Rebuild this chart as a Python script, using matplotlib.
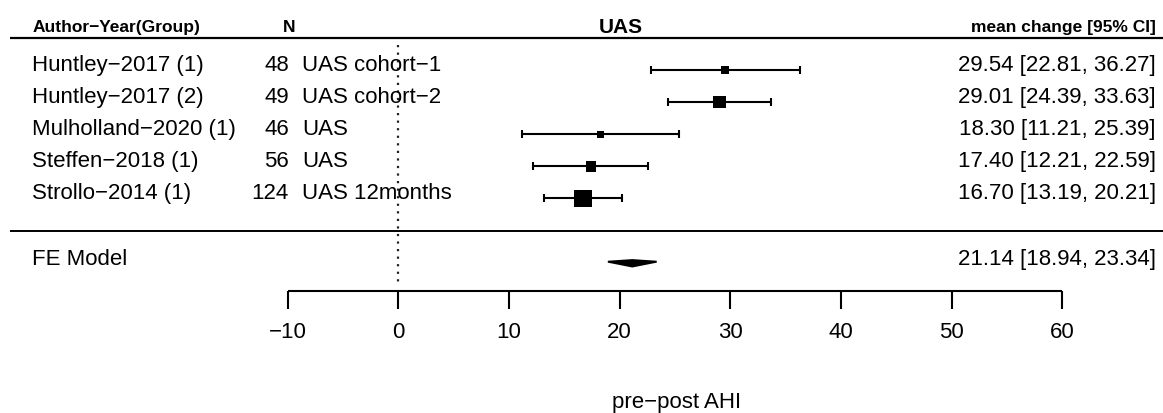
import numpy as np
import matplotlib
matplotlib.use("Agg")
import matplotlib.pyplot as plt
from matplotlib.patches import Polygon

plt.rcParams['font.family'] = ['Liberation Sans', 'DejaVu Sans']

# ---- data ----
studies = ["Huntley\u22122017 (1)", "Huntley\u22122017 (2)", "Mulholland\u22122020 (1)",
           "Steffen\u22122018 (1)", "Strollo\u22122014 (1)"]
n_vals = [48, 49, 46, 56, 124]
groups = ["UAS cohort\u22121", "UAS cohort\u22122", "UAS", "UAS", "UAS 12months"]
est = np.array([29.54, 29.01, 18.30, 17.40, 16.70])
ci_lo = np.array([22.81, 24.39, 11.21, 12.21, 13.19])
ci_hi = np.array([36.27, 33.63, 25.39, 22.59, 20.21])
fe_label = "FE Model"
fe_est, fe_lo, fe_hi = 21.14, 18.94, 23.34
xticks = [-10, 0, 10, 20, 30, 40, 50, 60]
title = "UAS"
xlabel = "pre\u2212post AHI"
hdr_left = "Author\u2212Year(Group)"
hdr_n = "N"
hdr_right = "mean change [95% CI]"

# ---- layout ----
fig = plt.figure(figsize=(11.63, 4.14), dpi=100)
ax = fig.add_axes([0, 0, 1, 1])
ax.set_xlim(-36.0, 69.1)
ax.set_ylim(-5.676, 7.2)
ax.axis('off')

k = len(studies)
rows = np.arange(k, 0, -1)
fe_row = -1
fs = 16
fs_hdr = 12.5

# headers
ax.text(-33.1, 6.2, hdr_left, ha='left', va='baseline', fontsize=fs_hdr, fontweight='bold')
ax.text(-9.87, 6.2, hdr_n, ha='center', va='baseline', fontsize=fs_hdr, fontweight='bold')
ax.text(68.45, 6.2, hdr_right, ha='right', va='baseline', fontsize=fs_hdr, fontweight='bold')
ax.text(20.1, 6.17, title, ha='center', va='baseline', fontsize=15, fontweight='bold')

# horizontal separators
ax.plot([-35.1, 69.1], [6, 6], color='black', lw=1.6, solid_capstyle='butt')
ax.plot([-35.1, 69.1], [0, 0], color='black', lw=1.4, solid_capstyle='butt')

# reference line
ax.plot([0, 0], [5.78, -1.67], color='#222222', lw=1.6, linestyle=(0, (1, 2.4)))

# study rows
for r, s, n, g, e, lo, hi in zip(rows, studies, n_vals, groups, est, ci_lo, ci_hi):
    ax.text(-33.1, r, s, ha='left', va='baseline', fontsize=fs)
    ax.text(-9.9, r, str(n), ha='right', va='baseline', fontsize=fs)
    ax.text(-8.73, r, g, ha='left', va='baseline', fontsize=fs)
    ax.text(68.45, r, f"{e:.2f} [{lo:.2f}, {hi:.2f}]", ha='right', va='baseline', fontsize=fs)

ax.errorbar(est, rows, xerr=[est - ci_lo, ci_hi - est], fmt='none', ecolor='black',
            elinewidth=1.5, capsize=3.2, capthick=1.5)

# square sizes from inverse-SE weights
se = (ci_hi - ci_lo) / (2 * 1.96)
w = 1 / se
wn = (w - w.min()) / (w.max() - w.min())
side_px = 7 + 10.5 * wn
side_pt = side_px * 0.72
ax.scatter(est, rows, marker='s', s=side_pt ** 2, color='black', linewidths=0, zorder=3)

# FE model
ax.text(-33.1, fe_row - 0.05, fe_label, ha='left', va='baseline', fontsize=fs)
ax.text(68.45, fe_row - 0.05, f"{fe_est:.2f} [{fe_lo:.2f}, {fe_hi:.2f}]",
        ha='right', va='baseline', fontsize=fs)
h = 0.08
ax.add_patch(Polygon([[fe_lo, fe_row + 0.03], [fe_est, fe_row + h], [fe_hi, fe_row + 0.03],
                      [fe_est, fe_row - h - 0.04]], closed=True, facecolor='black',
                     edgecolor='black', lw=1.4))

# x axis
ax_y = -1.87
ax.plot([xticks[0], xticks[-1]], [ax_y, ax_y], color='black', lw=1.5, solid_capstyle='butt')
for t in xticks:
    ax.plot([t, t], [ax_y, -2.44], color='black', lw=1.5, solid_capstyle='butt')
    lab = f"{t}".replace('-', '\u2212')
    ax.text(t, -3.3, lab, ha='center', va='baseline', fontsize=fs)
ax.text(25.15, -5.49, xlabel, ha='center', va='baseline', fontsize=fs)

fig.savefig('out.png', dpi=100)
